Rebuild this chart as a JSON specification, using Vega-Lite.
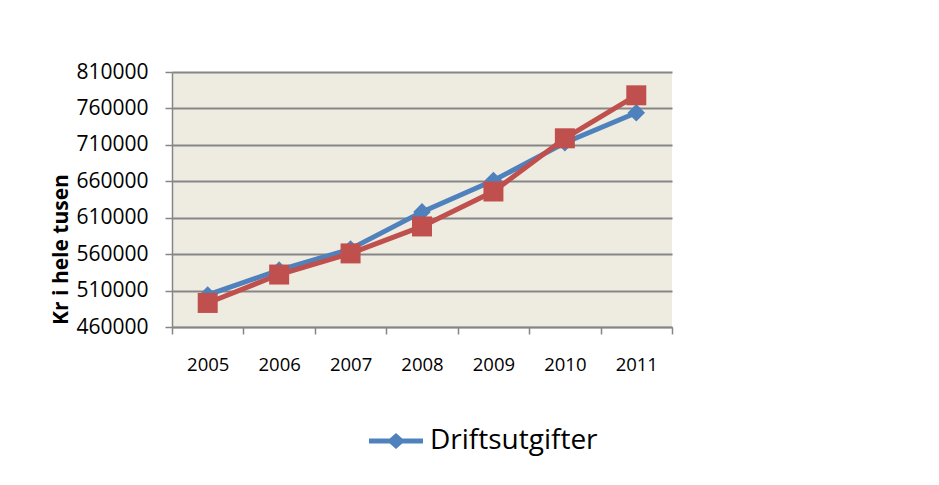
{
  "$schema": "https://vega.github.io/schema/vega-lite/v6.json",
  "width": 500,
  "height": 255,
  "autosize": {"type": "none"},
  "padding": {"left": 172, "top": 72, "right": 267, "bottom": 158},
  "background": "white",
  "config": {
    "font": "Open Sans",
    "view": {"fill": "#EEECE1", "stroke": null},
    "axis": {
      "domainColor": "#868686",
      "domainWidth": 1.5,
      "tickColor": "#868686",
      "tickWidth": 1.5,
      "tickSize": 7,
      "gridColor": "#868686",
      "gridWidth": 1.8,
      "labelColor": "black",
      "labelFont": "Open Sans"
    }
  },
  "data": {
    "values": [
      {"year": "2005", "series": "Driftsutgifter", "value": 504000},
      {"year": "2006", "series": "Driftsutgifter", "value": 538000},
      {"year": "2007", "series": "Driftsutgifter", "value": 567000},
      {"year": "2008", "series": "Driftsutgifter", "value": 618000},
      {"year": "2009", "series": "Driftsutgifter", "value": 661000},
      {"year": "2010", "series": "Driftsutgifter", "value": 713000},
      {"year": "2011", "series": "Driftsutgifter", "value": 754000},
      {"year": "2005", "series": "Driftsinntekter", "value": 493000},
      {"year": "2006", "series": "Driftsinntekter", "value": 532000},
      {"year": "2007", "series": "Driftsinntekter", "value": 561000},
      {"year": "2008", "series": "Driftsinntekter", "value": 598000},
      {"year": "2009", "series": "Driftsinntekter", "value": 646000},
      {"year": "2010", "series": "Driftsinntekter", "value": 719000},
      {"year": "2011", "series": "Driftsinntekter", "value": 778000}
    ]
  },
  "encoding": {
    "x": {
      "field": "year",
      "type": "ordinal",
      "scale": {"type": "band", "paddingInner": 0, "paddingOuter": 0},
      "axis": {
        "title": null,
        "labelAngle": 0,
        "labelFontSize": 18.5,
        "labelPadding": 21,
        "tickBand": "extent",
        "grid": false
      }
    },
    "y": {
      "field": "value",
      "type": "quantitative",
      "scale": {"domain": [460000, 810000], "nice": false, "zero": false},
      "axis": {
        "values": [460000, 510000, 560000, 610000, 660000, 710000, 760000, 810000],
        "format": "d",
        "labelFontSize": 21,
        "labelPadding": 17,
        "grid": true,
        "title": "Kr i hele tusen",
        "titleFont": "Open Sans",
        "titleFontSize": 21,
        "titleFontWeight": "bold",
        "titleColor": "black",
        "titleX": -111,
        "titleY": 177,
        "titleAlign": "center",
        "titleBaseline": "middle",
        "titleAngle": -90
      }
    },
    "color": {
      "field": "series",
      "type": "nominal",
      "scale": {"domain": ["Driftsutgifter", "Driftsinntekter"], "range": ["#4F81BD", "#C0504D"]},
      "legend": {
        "values": ["Driftsutgifter"],
        "title": null,
        "orient": "none",
        "legendX": 197,
        "legendY": 342,
        "padding": 0,
        "symbolType": "M-1,-0.09L-0.231,-0.09L0,-0.3L0.231,-0.09L1,-0.09L1,0.09L0.231,0.09L0,0.3L-0.231,0.09L-1,0.09Z",
        "symbolSize": 2916,
        "symbolStrokeWidth": 0,
        "labelFont": "Open Sans",
        "labelFontSize": 28,
        "labelColor": "black",
        "labelOffset": 7,
        "labelLimit": 400,
        "encode": {"symbols": {"update": {"fill": {"value": "#4F81BD"}, "stroke": {"value": "transparent"}, "opacity": {"value": 1}}}}
      }
    }
  },
  "layer": [
    {
      "transform": [{"filter": "datum.series === 'Driftsutgifter'"}],
      "mark": {"type": "line", "strokeWidth": 5},
      "encoding": {}
    },
    {
      "transform": [{"filter": "datum.series === 'Driftsutgifter'"}],
      "mark": {"type": "point", "shape": "diamond", "filled": true, "size": 310, "opacity": 1},
      "encoding": {}
    },
    {
      "transform": [{"filter": "datum.series === 'Driftsinntekter'"}],
      "mark": {"type": "line", "strokeWidth": 5},
      "encoding": {}
    },
    {
      "transform": [{"filter": "datum.series === 'Driftsinntekter'"}],
      "mark": {"type": "point", "shape": "square", "filled": true, "size": 400, "opacity": 1},
      "encoding": {}
    }
  ]
}
